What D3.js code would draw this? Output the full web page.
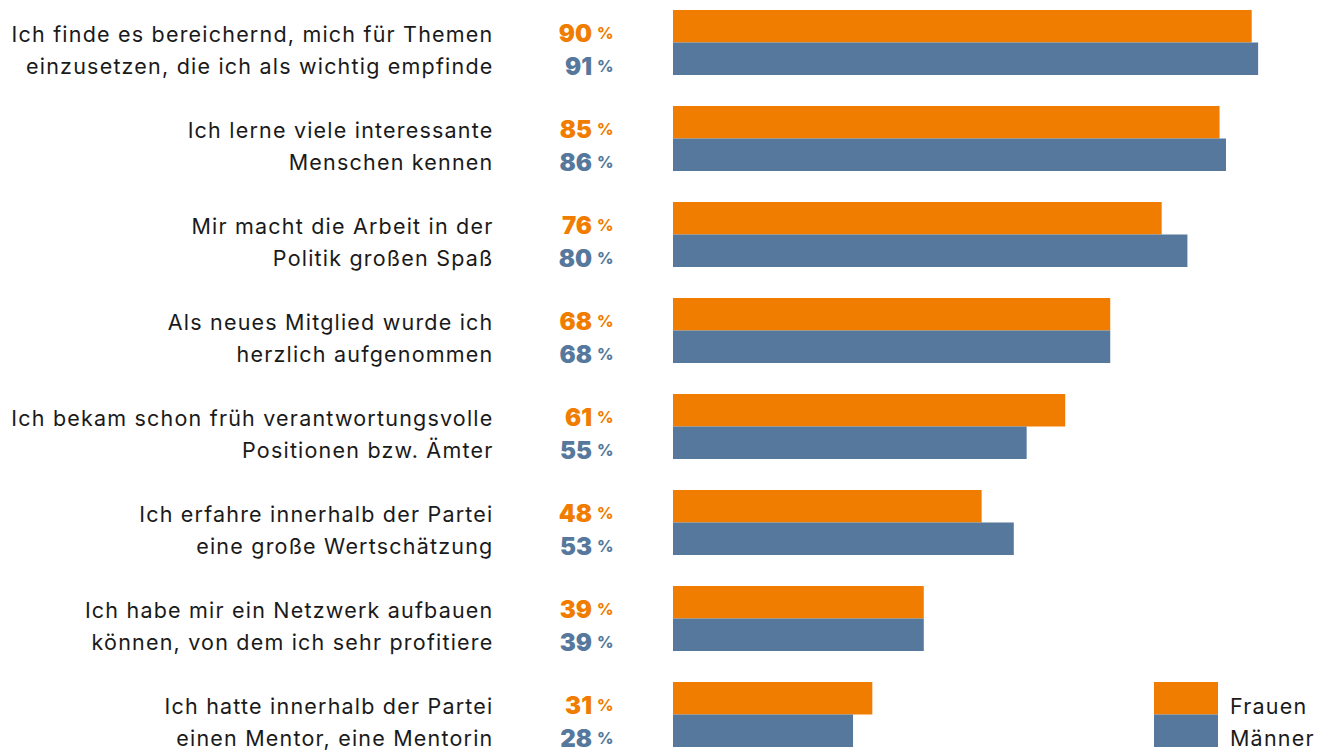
<!DOCTYPE html>
<html>
<head>
<meta charset="utf-8">
<script src="https://cdn.jsdelivr.net/npm/d3@7"></script>
<style>
  html, body { margin: 0; padding: 0; background: #fff; }
  svg { display: block; }
</style>
</head>
<body>
<svg id="chart"></svg>
<script>
// Motivation in der Partei - Frauen vs. Männer
const statements = [
  ['Ich finde es bereichernd, mich für Themen', 'einzusetzen, die ich als wichtig empfinde'],
  ['Ich lerne viele interessante', 'Menschen kennen'],
  ['Mir macht die Arbeit in der', 'Politik großen Spaß'],
  ['Als neues Mitglied wurde ich', 'herzlich aufgenommen'],
  ['Ich bekam schon früh verantwortungsvolle', 'Positionen bzw. Ämter'],
  ['Ich erfahre innerhalb der Partei', 'eine große Wertschätzung'],
  ['Ich habe mir ein Netzwerk aufbauen', 'können, von dem ich sehr profitiere'],
  ['Ich hatte innerhalb der Partei', 'einen Mentor, eine Mentorin']
];
const frauen = [90, 85, 76, 68, 61, 48, 39, 31];
const maenner = [91, 86, 80, 68, 55, 53, 39, 28];
const seriesNames = ['Frauen', 'Männer'];

const colors = { Frauen: '#f07d00', 'Männer': '#56789c' };
const width = 1329;
const height = 751;
const fontFamily = 'Inter, Roboto, sans-serif';

const svg = d3.select('#chart')
  .attr('width', width)
  .attr('height', height)
  .attr('viewBox', `0 0 ${width} ${height}`);

const rows = statements.map((s, i) => ({
  lines: s,
  values: [
    { key: 'Frauen', value: frauen[i] },
    { key: 'Männer', value: maenner[i] }
  ]
}));

const yScale = d3.scaleBand()
  .domain(d3.range(rows.length))
  .range([10, 747])
  .paddingInner(31 / 96)
  .paddingOuter(0);

const ySub = d3.scaleBand()
  .domain(seriesNames)
  .range([0, yScale.bandwidth()]);

const xScale = d3.scaleLinear()
  .domain([0, 100])
  .range([673, 1316]);

const groups = svg.selectAll('.row')
  .data(rows)
  .enter()
  .append('g')
  .attr('class', 'row')
  .attr('transform', (d, i) => `translate(0,${yScale(i)})`);

groups.selectAll('.bar')
  .data(d => d.values)
  .enter()
  .append('rect')
  .attr('class', 'bar')
  .attr('x', xScale(0))
  .attr('y', d => ySub(d.key))
  .attr('width', d => xScale(d.value) - xScale(0))
  .attr('height', ySub.bandwidth())
  .attr('fill', d => colors[d.key]);

// statement text, two lines
groups.selectAll('.label')
  .data(d => d.lines)
  .enter()
  .append('text')
  .attr('class', 'label')
  .attr('x', 493.5)
  .attr('y', (d, i) => ySub(seriesNames[i]) + ySub.bandwidth() / 2 + 15.5)
  .attr('text-anchor', 'end')
  .style('font-family', fontFamily)
  .style('font-size', '21.5px')
  .style('letter-spacing', '1.2px')
  .style('fill', '#1a1a1a')
  .text(d => d);

// value labels
const vals = groups.selectAll('.val')
  .data(d => d.values)
  .enter()
  .append('g')
  .attr('class', 'val')
  .attr('transform', d => `translate(0,${ySub(d.key) + ySub.bandwidth() / 2 + 16})`);

vals.append('text')
  .attr('x', 592)
  .attr('text-anchor', 'end')
  .style('font-family', fontFamily)
  .style('font-size', '24px')
  .style('font-weight', 900)
  .style('fill', d => colors[d.key])
  .text(d => d.value);

vals.append('text')
  .attr('x', 597)
  .attr('y', -3)
  .style('font-family', fontFamily)
  .style('font-size', '16px')
  .style('font-weight', 800)
  .style('fill', d => colors[d.key])
  .text('%');

// legend, aligned with the last row
const last = rows.length - 1;
const legend = svg.append('g')
  .attr('transform', `translate(1154,${yScale(last)})`);

legend.selectAll('rect')
  .data(seriesNames)
  .enter()
  .append('rect')
  .attr('x', 0)
  .attr('y', d => ySub(d))
  .attr('width', 64)
  .attr('height', ySub.bandwidth())
  .attr('fill', d => colors[d]);

legend.selectAll('text')
  .data(seriesNames)
  .enter()
  .append('text')
  .attr('x', 76)
  .attr('y', d => ySub(d) + ySub.bandwidth() / 2 + 15.5)
  .style('font-family', fontFamily)
  .style('font-size', '21.5px')
  .style('letter-spacing', '1.2px')
  .style('fill', '#1a1a1a')
  .text(d => d);
</script>
</body>
</html>
